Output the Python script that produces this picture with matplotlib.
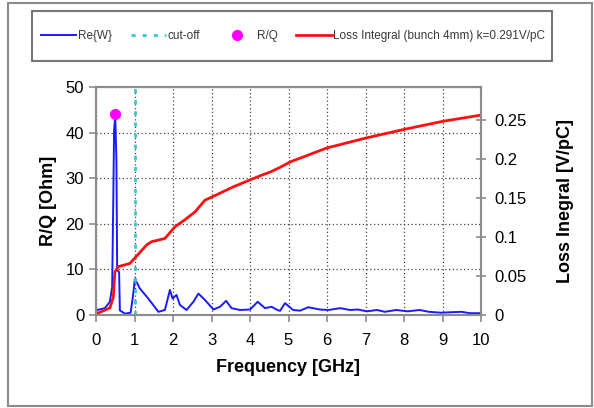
import numpy as np
import matplotlib
matplotlib.use('Agg')
import matplotlib.pyplot as plt
from matplotlib.patches import Rectangle

plt.rcParams['font.family'] = ['Liberation Sans', 'DejaVu Sans']

# Re{W} [Ohm] vs frequency [GHz]
f_re = [0.0, 0.03, 0.23, 0.36, 0.42, 0.45, 0.47, 0.50, 0.53, 0.55, 0.60, 0.62, 0.75, 0.90,
        0.97, 1.01, 1.14, 1.32, 1.45, 1.62, 1.79, 1.92, 1.99, 2.09, 2.18, 2.35, 2.53, 2.66,
        2.83, 3.05, 3.22, 3.38, 3.52, 3.74, 4.00, 4.20, 4.39, 4.56, 4.69, 4.78, 4.91, 5.12,
        5.30, 5.51, 5.82, 6.04, 6.34, 6.60, 6.80, 7.04, 7.30, 7.50, 7.80, 8.10, 8.40, 8.65,
        8.96, 9.20, 9.50, 9.70, 10.0]
re_w = [0.8, 1.1, 1.5, 2.9, 6.2, 26.0, 40.6, 43.5, 34.0, 9.9, 9.4, 1.0, 0.3, 0.5,
        4.8, 8.0, 5.8, 4.0, 2.6, 0.7, 1.1, 5.5, 3.6, 4.4, 2.2, 1.1, 2.9, 4.7,
        3.3, 1.2, 1.8, 3.1, 1.5, 1.1, 1.2, 2.9, 1.5, 1.8, 1.2, 0.9, 2.6, 1.1,
        0.95, 1.7, 1.2, 1.1, 1.5, 1.1, 1.2, 0.8, 1.1, 0.7, 1.1, 0.8, 1.1, 0.7,
        0.5, 0.6, 0.7, 0.4, 0.4]

# Loss integral [V/pC]
f_loss = [0.0, 0.03, 0.36, 0.45, 0.49, 0.58, 0.88, 1.01, 1.32, 1.45, 1.79, 2.05, 2.31, 2.57,
          2.83, 3.22, 3.56, 4.00, 4.30, 4.52, 4.78, 5.04, 6.0, 7.04, 8.03, 9.0, 10.0]
loss = [0.0, 0.002, 0.009, 0.023, 0.055, 0.062, 0.066, 0.073, 0.090, 0.094, 0.098, 0.113,
        0.122, 0.132, 0.147, 0.156, 0.164, 0.173, 0.179, 0.183, 0.189, 0.196, 0.214, 0.227,
        0.238, 0.248, 0.256]

rq_f = [0.5]
rq_val = [44]
cutoff = 1.0

fig = plt.figure(figsize=(5.94, 4.08), dpi=100)
# outer frame and legend frame
fig.patches.append(Rectangle((8 / 594, 2 / 408), 584 / 594, 403 / 408, transform=fig.transFigure,
                             fill=False, edgecolor='#8a8a8a', linewidth=1.5))
fig.patches.append(Rectangle((32 / 594, 1 - 61 / 408), 520 / 594, 50 / 408, transform=fig.transFigure,
                             fill=False, edgecolor='#777777', linewidth=1.5))

ax = fig.add_axes([96 / 594, 1 - 315 / 408, 385 / 594, 228 / 408])
ax2 = ax.twinx()

l1, = ax.plot(f_re, re_w, color='#1a1aff', lw=1.4, label='Re{W}')
l2 = ax.axvline(cutoff, color='#33cccc', lw=2, linestyle=(0, (1.5, 2.5)), label='cut-off')
l3, = ax.plot(rq_f, rq_val, 'o', color='#ff00ff', ms=7, label='R/Q', zorder=5)
l4, = ax2.plot(f_loss, loss, color='#ff1010', lw=2, label='Loss Integral (bunch 4mm) k=0.291V/pC')

ax.set_xlim(0, 10)
ax.set_ylim(0, 50)
ax2.set_ylim(0, 0.292)
ax.set_xticks(range(0, 11))
ax.set_yticks(range(0, 51, 10))
ax2.set_yticks([0, 0.05, 0.1, 0.15, 0.2, 0.25])
ax2.set_yticklabels(['0', '0.05', '0.1', '0.15', '0.2', '0.25'])

ax.grid(True, color='#444444', linestyle=(0, (1, 2)), lw=0.9)
for a in (ax, ax2):
    for s in a.spines.values():
        s.set_color('#8c8c8c')
        s.set_linewidth(1.5)
ax.tick_params(axis='both', labelsize=12, color='#8c8c8c', width=1.2, length=5)
ax.tick_params(axis='x', pad=8)
ax2.tick_params(axis='y', labelsize=12, color='#8c8c8c', width=1.2, length=7, direction='inout', pad=6)

ax.set_xlabel('Frequency [GHz]', fontsize=13, fontweight='bold', labelpad=8)
ax.set_ylabel('R/Q [Ohm]', fontsize=13, fontweight='bold', labelpad=6)
ax2.set_ylabel('Loss Inegral [V/pC]', fontsize=13, fontweight='bold', labelpad=22)

leg = fig.legend(handles=[l1, l2, l3, l4], ncol=4, loc='center',
                 bbox_to_anchor=(293 / 594, 1 - 36 / 408),
                 fontsize=8.5, frameon=False,
                 handlelength=3.0, handletextpad=0.15, columnspacing=1.6, borderaxespad=0)
for t in leg.get_texts():
    t.set_color('#3a3a3a')

fig.savefig('out.png', dpi=100)
